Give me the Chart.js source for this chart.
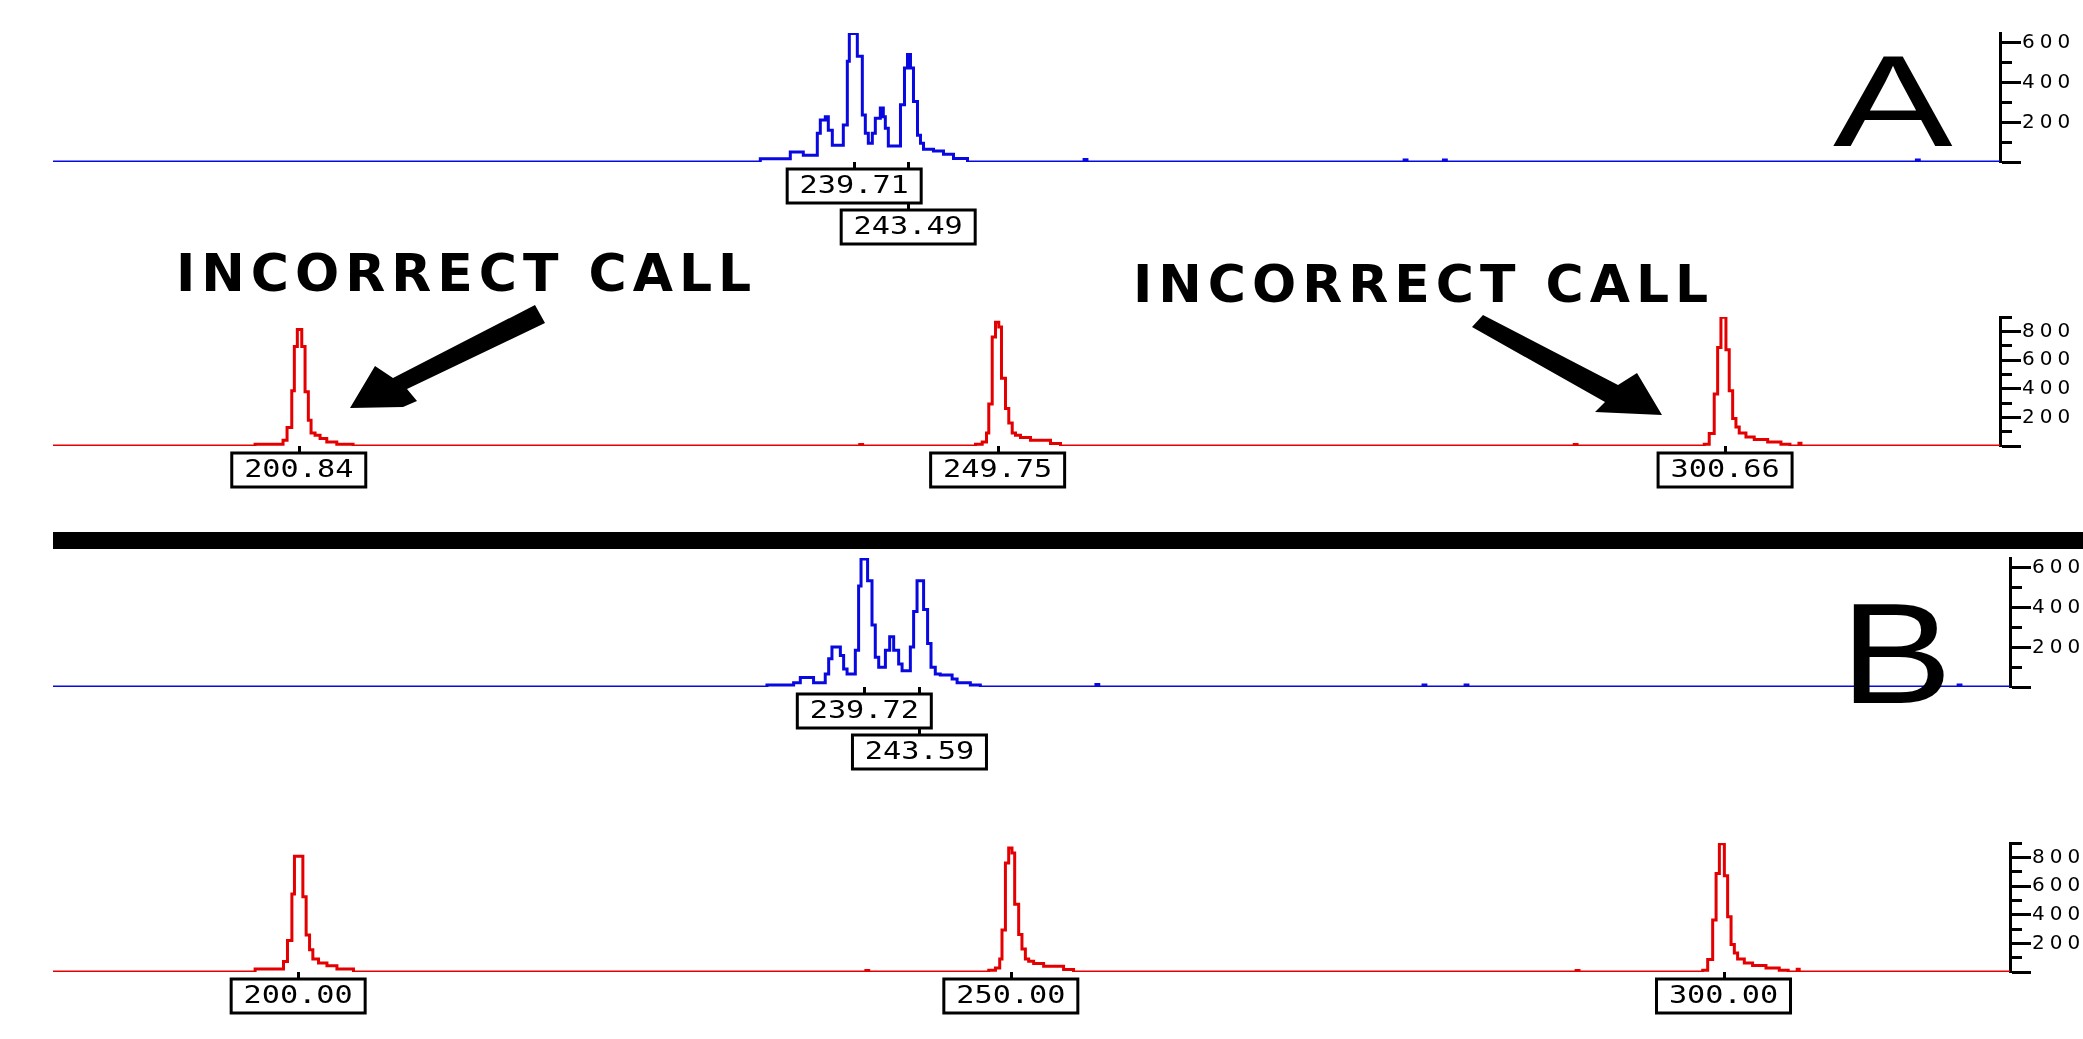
<!DOCTYPE html>
<html><head><meta charset="utf-8">
<script src="https://cdn.jsdelivr.net/npm/chart.js@4.4.1/dist/chart.umd.min.js"></script>
<style>
html,body{margin:0;padding:0;background:#fff;width:2083px;height:1039px;overflow:hidden;position:relative}
canvas{position:absolute;left:0}
.big{position:absolute;font-family:"Liberation Sans",Arial,sans-serif;font-size:130px;line-height:1;transform-origin:0 0;color:#000;white-space:nowrap}
.call{position:absolute;font-family:"DejaVu Sans",sans-serif;font-weight:bold;font-size:52px;line-height:1;letter-spacing:6px;color:#000;white-space:nowrap}
#bar{position:absolute;left:53px;top:532px;width:2030px;height:17px;background:#000}
svg{position:absolute;left:0;top:0}
</style></head><body>
<div id="bar"></div>
<canvas id="cA1" width="2090" height="244" style="top:13px"></canvas>
<canvas id="cA2" width="2090" height="244" style="top:297px"></canvas>
<canvas id="cB1" width="2100" height="244" style="top:538px"></canvas>
<canvas id="cB2" width="2100" height="244" style="top:823px"></canvas>
<div class="big" style="left:1833px;top:36px;transform:scaleX(1.38)">A</div>
<div class="big" style="left:1840px;top:582px;font-size:143px;transform:scaleX(1.18)">B</div>
<div class="call" style="left:176px;top:247px">INCORRECT CALL</div>
<div class="call" style="left:1133px;top:258px">INCORRECT CALL</div>
<svg width="2083" height="1039">
<polygon fill="#000" points="535,305 393,378 375,366 350,408 403,407 417,401 407,389 545,323"/>
<polygon fill="#000" points="1483,315 1618,385 1637,373 1662,415 1595,412 1605,402 1472,327"/>
</svg>
<script>
// ---- Panel A (incorrect sizing) ----
const blueA_bp = [183.64, 233.14, 235.24, 236.15, 237.13, 237.34, 237.69, 237.90, 238.18, 238.95, 239.23, 239.37, 239.93, 240.28, 240.49, 240.70, 240.98, 241.19, 241.54, 241.75, 241.89, 242.10, 242.95, 243.23, 243.44, 243.65, 243.86, 244.14, 244.35, 244.56, 245.26, 245.96, 246.66, 247.64, 255.80, 256.00, 278.20, 278.40, 280.95, 281.15, 314.05, 314.25, 319.90];
const blueA_rfu = [0, 17, 50, 34, 145, 211, 228, 160, 85, 186, 508, 648, 533, 237, 145, 94, 145, 221, 272, 228, 170, 81, 288, 474, 542, 474, 305, 135, 94, 64, 56, 39, 18, 0, 12, 0, 10, 0, 10, 0, 10, 0, 0];
const redA_bp = [183.64, 197.78, 199.74, 200.02, 200.35, 200.53, 200.74, 201.05, 201.28, 201.51, 201.70, 201.98, 202.33, 202.80, 203.50, 204.64, 240.10, 240.30, 248.20, 248.67, 248.97, 249.13, 249.37, 249.60, 249.83, 250.02, 250.30, 250.53, 250.77, 251.00, 251.35, 252.05, 253.45, 254.15, 290.10, 290.30, 299.20, 299.55, 299.90, 300.14, 300.37, 300.72, 300.95, 301.19, 301.42, 301.65, 302.12, 302.70, 303.64, 304.57, 305.20, 305.83, 305.97, 319.90];
const redA_rfu = [0, 12, 40, 129, 386, 695, 812, 695, 379, 180, 91, 75, 52, 28, 12, 0, 10, 0, 12, 28, 91, 293, 761, 863, 831, 473, 262, 161, 91, 75, 59, 40, 17, 0, 10, 0, 12, 87, 363, 688, 898, 672, 386, 192, 133, 91, 63, 45, 28, 12, 0, 20, 0, 0];
const labelsA_blue = ['239.71', '243.49'];
const rowsA_blue = [0, 1];
const labelsA_red = ['200.84', '249.75', '300.66'];
const rowsA_red = [0, 0, 0];

// ---- Panel B (correct sizing) ----
const blueB_bp = [182.80, 232.89, 234.76, 235.23, 236.16, 236.98, 237.22, 237.45, 238.04, 238.27, 238.51, 239.09, 239.32, 239.49, 239.95, 240.26, 240.49, 240.73, 241.20, 241.50, 241.78, 242.13, 242.37, 242.95, 243.18, 243.42, 243.88, 244.16, 244.40, 244.70, 245.05, 245.88, 246.23, 247.16, 247.86, 255.97, 256.17, 278.92, 279.12, 281.87, 282.07, 316.46, 316.66, 320.10];
const blueB_rfu = [0, 10, 22, 48, 22, 65, 142, 202, 159, 91, 65, 185, 509, 645, 535, 313, 150, 99, 185, 253, 185, 116, 82, 202, 381, 535, 390, 219, 99, 65, 60, 40, 22, 10, 0, 12, 0, 10, 0, 10, 0, 10, 0, 0];
const redB_bp = [182.80, 196.98, 198.97, 199.25, 199.56, 199.74, 200.33, 200.56, 200.80, 201.03, 201.43, 202.02, 202.72, 203.88, 239.83, 240.03, 248.45, 248.92, 249.22, 249.38, 249.62, 249.85, 250.08, 250.27, 250.55, 250.78, 251.02, 251.25, 251.60, 252.30, 253.70, 254.40, 289.66, 289.86, 298.54, 298.89, 299.24, 299.48, 299.71, 300.06, 300.29, 300.53, 300.76, 300.99, 301.46, 302.04, 302.98, 303.91, 304.54, 305.17, 305.31, 320.10];
const redB_rfu = [0, 21, 74, 219, 544, 808, 525, 259, 155, 90, 62, 44, 21, 0, 10, 0, 12, 28, 91, 293, 761, 865, 831, 473, 262, 161, 91, 75, 59, 40, 17, 0, 10, 0, 12, 87, 363, 688, 895, 672, 386, 192, 133, 91, 63, 45, 28, 12, 0, 20, 0, 0];
const labelsB_blue = ['239.72', '243.59'];
const rowsB_blue = [0, 1];
const labelsB_red = ['200.00', '250.00', '300.00'];
const rowsB_red = [0, 0, 0];

// axis ranges (bp, RFU)
const xRangeA = [183.64, 319.90];
const xRangeB = [182.80, 320.10];
const yMaxBlue = 650;
const yMaxRed = 900;

const BLUE = 'rgb(8,8,225)';
const RED = 'rgb(228,0,0)';

const peakLabels = {
  id: 'peakLabels',
  afterDatasetsDraw(chart) {
    const o = chart.options.plugins.peakLabels;
    if (!o || !o.texts) return;
    const xs = chart.scales.x, ys = chart.scales.y, ctx = chart.ctx;
    const y0 = ys.getPixelForValue(0);
    const W = 134, H = 34, GAP = 7;
    ctx.save();
    ctx.letterSpacing = '0px';
    ctx.strokeStyle = '#000';
    ctx.lineWidth = 3;
    o.texts.forEach((t, i) => {
      const x = Math.round(xs.getPixelForValue(parseFloat(t))) + 0.5;
      const top = y0 + GAP + o.rows[i] * (H + GAP);
      ctx.beginPath(); ctx.moveTo(x, y0); ctx.lineTo(x, top); ctx.stroke();
    });
    o.texts.forEach((t, i) => {
      const x = xs.getPixelForValue(parseFloat(t));
      const top = y0 + GAP + o.rows[i] * (H + GAP);
      ctx.fillStyle = '#fff';
      ctx.fillRect(x - W / 2, top, W, H);
      ctx.strokeRect(x - W / 2, top, W, H);
      ctx.save();
      ctx.fillStyle = '#000';
      ctx.font = '24px "DejaVu Sans Mono"';
      ctx.textAlign = 'center';
      ctx.textBaseline = 'middle';
      ctx.translate(x, top + H / 2 + 1);
      ctx.scale(1.26, 1);
      ctx.fillText(t, 0, 0);
      ctx.restore();
    });
    ctx.restore();
  }
};

const spacing = {
  id: 'spacing',
  beforeDraw(chart) { chart.ctx.letterSpacing = '5px'; },
  afterDraw(chart) { chart.ctx.letterSpacing = '0px'; }
};

function makeChart(id, bp, rfu, color, xRange, yMax, texts, rows) {
  return new Chart(document.getElementById(id), {
    type: 'line',
    data: {
      datasets: [{
        data: bp.map((x, i) => ({ x: x, y: rfu[i] })),
        borderColor: color,
        borderWidth: 3,
        pointRadius: 0,
        stepped: true,
        fill: false
      }]
    },
    options: {
      responsive: false,
      animation: false,
      events: [],
      layout: { padding: { left: 53, right: 0, top: 20, bottom: 95 } },
      plugins: {
        legend: { display: false },
        tooltip: { enabled: false },
        peakLabels: { texts: texts, rows: rows }
      },
      scales: {
        x: { type: 'linear', min: xRange[0], max: xRange[1], display: false },
        y: {
          position: 'right',
          min: 0,
          max: yMax,
          afterFit(s) { s.width = 90; },
          border: { display: true, color: '#000', width: 3 },
          grid: {
            drawOnChartArea: false,
            drawTicks: true,
            tickLength: 21,
            tickWidth: 3,
            tickColor: '#000',
            tickBorderDash: (c) => (c.tick && c.tick.value % 200 === 0) ? [] : [10, 100]
          },
          ticks: {
            stepSize: 100,
            includeBounds: false,
            autoSkip: false,
            padding: 1,
            color: '#000',
            font: { family: 'DejaVu Sans', size: 20 },
            callback: (v) => (v > 0 && v % 200 === 0) ? String(v) : ''
          }
        }
      }
    },
    plugins: [spacing, peakLabels]
  });
}

makeChart('cA1', blueA_bp, blueA_rfu, BLUE, xRangeA, yMaxBlue, labelsA_blue, rowsA_blue);
makeChart('cA2', redA_bp, redA_rfu, RED, xRangeA, yMaxRed, labelsA_red, rowsA_red);
makeChart('cB1', blueB_bp, blueB_rfu, BLUE, xRangeB, yMaxBlue, labelsB_blue, rowsB_blue);
makeChart('cB2', redB_bp, redB_rfu, RED, xRangeB, yMaxRed, labelsB_red, rowsB_red);
</script>
</body></html>
